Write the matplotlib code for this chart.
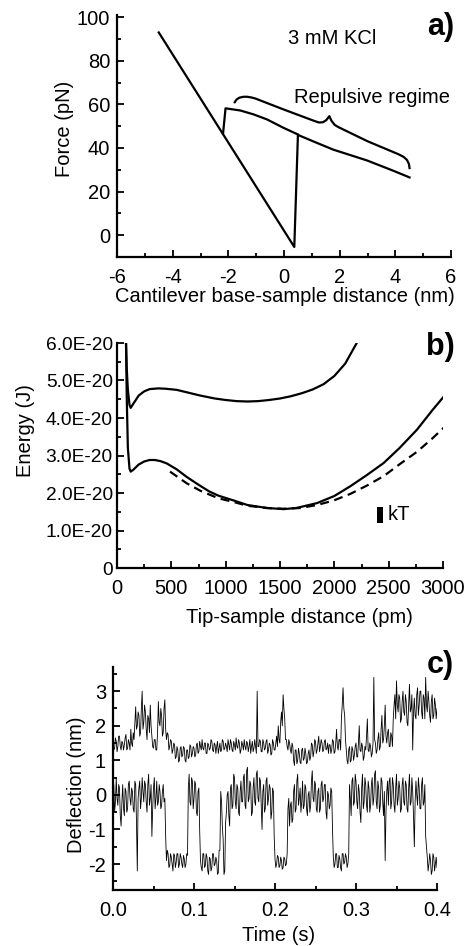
import numpy as np
import matplotlib
matplotlib.use("Agg")
import matplotlib.pyplot as plt
from matplotlib.ticker import MultipleLocator, FuncFormatter

plt.rcParams['font.family'] = ['Liberation Sans', 'DejaVu Sans']
plt.rcParams['font.size'] = 14.5
plt.rcParams['axes.unicode_minus'] = False

# ── Panel a: force curves ─────────────────────────────────────────────────────
retract_x = [-4.50, 0.37, 0.50, 1.19, 1.78, 2.98, 3.94, 4.51]
retract_f = [93.0, -5.4, 46.0, 42.3, 39.2, 34.3, 29.5, 26.5]
approach_x = [-2.19, -2.10, -1.57, -1.09, -0.61, -0.01, 0.50]
approach_f = [46.6, 58.2, 57.2, 55.4, 53.1, 49.2, 46.2]

brace_x = [-1.77, -1.70, -1.60, -1.45, -1.33, -1.18, -1.03, 0.00, 1.07, 1.25, 1.40,
           1.52, 1.63, 1.70, 1.82, 1.95, 3.00, 4.12, 4.30, 4.42, 4.49, 4.51]
brace_f = [61.0, 62.3, 63.1, 63.5, 63.5, 63.2, 62.7, 57.6, 52.5, 51.7, 51.8,
           52.8, 54.6, 52.6, 50.6, 49.6, 43.1, 37.1, 35.9, 34.5, 32.6, 30.8]

# ── Panel b: energy profiles (units of 1e-20 J) ───────────────────────────────
up_x = [83, 90, 100, 115, 126, 150, 200, 250, 300, 380, 450, 550, 650, 764, 900,
        1000, 1100, 1200, 1300, 1400, 1500, 1600, 1700, 1800, 1900, 2000, 2100, 2206]
up_e = [6.0, 5.3, 4.75, 4.35, 4.27, 4.38, 4.60, 4.71, 4.77, 4.79, 4.78, 4.75, 4.68, 4.60,
        4.52, 4.48, 4.45, 4.44, 4.45, 4.48, 4.52, 4.58, 4.66, 4.76, 4.90, 5.12, 5.45, 6.0]
low_x = [83, 90, 100, 115, 126, 150, 200, 250, 300, 350, 400, 457, 550, 641, 750, 850,
         932, 1074, 1200, 1380, 1534, 1650, 1840, 2000, 2147, 2300, 2454, 2600, 2761,
         2900, 3021]
low_e = [6.0, 4.5, 3.2, 2.65, 2.57, 2.62, 2.76, 2.84, 2.88, 2.88, 2.85, 2.79, 2.63, 2.43,
         2.22, 2.04, 1.93, 1.80, 1.68, 1.60, 1.57, 1.60, 1.73, 1.92, 2.18, 2.48, 2.80,
         3.20, 3.69, 4.20, 4.62]
dash_x = [488, 641, 767, 932, 1074, 1200, 1380, 1530, 1687, 1840, 1994, 2150, 2301,
          2454, 2607, 2761, 2900, 3021]
dash_e = [2.57, 2.26, 2.06, 1.86, 1.76, 1.66, 1.60, 1.58, 1.60, 1.68, 1.80, 1.98, 2.20,
          2.45, 2.78, 3.10, 3.45, 3.78]
kT = 0.41   # 1e-20 J

# ── Panel c: deflection traces (every 1 ms) ───────────────────────────────────
t_step = 0.001
upper_trace = [
    1.6, 1.3, 1.35, 1.65, 1.55, 1.25, 1.4, 1.7, 1.7, 1.4, 1.3, 1.55, 1.5, 1.3, 1.45, 1.65, 1.75, 1.3, 1.35, 1.6,
    1.5, 1.3, 1.9, 1.5, 1.4, 1.8, 1.6, 2.1, 2.55, 1.9, 2.0, 2.4, 2.3, 1.7, 1.8, 2.5, 3.0, 1.9, 2.1, 2.6,
    2.4, 1.9, 1.6, 2.3, 2.2, 1.8, 2.6, 2.0, 1.7, 1.4, 1.35, 1.6, 1.6, 1.3, 1.3, 1.8, 2.7, 2.1, 2.0, 2.5,
    2.3, 1.7, 1.8, 2.5, 2.75, 1.9, 1.6, 1.8, 1.75, 1.3, 1.4, 1.6, 1.55, 1.2, 1.3, 1.5, 1.45, 1.05, 1.1, 1.4,
    1.3, 0.95, 1.0, 1.35, 1.4, 1.1, 1.15, 1.4, 1.35, 1.0, 0.95, 1.3, 1.3, 1.05, 1.1, 1.45, 1.4, 1.1, 1.2, 1.4,
    1.35, 1.1, 1.15, 1.45, 1.5, 1.2, 1.25, 1.55, 1.4, 1.3, 1.6, 1.35, 1.3, 1.5, 1.5, 1.2, 1.2, 1.5, 1.45, 1.3,
    1.35, 1.6, 1.55, 1.3, 1.25, 1.5, 1.45, 1.2, 1.4, 1.55, 1.2, 1.35, 1.5, 1.25, 1.3, 1.6, 1.55, 1.3, 1.35, 1.5,
    1.4, 1.25, 1.6, 1.45, 1.3, 1.6, 1.5, 1.3, 1.25, 1.55, 1.45, 1.3, 1.65, 1.4, 1.35, 1.6, 1.5, 1.2, 1.3, 1.55,
    1.45, 1.3, 1.6, 1.4, 1.3, 1.55, 1.5, 1.25, 1.4, 1.6, 1.2, 1.4, 1.55, 1.25, 1.35, 1.6, 1.4, 1.2, 3.0, 1.4,
    1.4, 1.6, 1.55, 1.25, 1.25, 1.6, 1.5, 1.3, 1.35, 1.55, 1.6, 1.2, 1.3, 1.5, 1.45, 1.15, 1.2, 1.6, 1.5, 1.3,
    1.3, 1.5, 1.7, 1.4, 2.0, 1.6, 1.5, 2.1, 2.4, 2.0, 2.9, 2.5, 2.2, 1.6, 1.6, 1.4, 1.3, 1.6, 1.5, 1.3,
    1.2, 1.5, 1.4, 1.0, 0.85, 1.3, 1.3, 0.9, 1.0, 1.35, 1.2, 0.95, 0.9, 1.3, 1.35, 1.0, 1.05, 1.35, 1.2, 0.9,
    0.95, 1.2, 1.3, 1.0, 1.1, 1.5, 1.45, 1.1, 1.25, 1.6, 1.55, 1.2, 1.3, 1.5, 1.7, 1.25, 1.4, 1.6, 1.5, 1.25,
    1.3, 1.55, 1.6, 1.3, 1.35, 1.5, 1.2, 1.45, 1.45, 1.2, 1.3, 1.6, 1.55, 1.2, 1.25, 1.5, 1.9, 1.4, 1.3, 1.6,
    1.6, 1.3, 2.2, 2.6, 3.1, 2.5, 2.3, 1.6, 1.3, 1.0, 0.9, 1.3, 1.4, 0.95, 1.0, 1.4, 1.3, 1.0, 1.15, 1.4,
    1.5, 1.1, 1.1, 1.5, 2.0, 1.3, 1.25, 1.5, 1.4, 1.0, 1.1, 1.4, 1.3, 1.7, 2.2, 1.3, 1.25, 1.5, 1.4, 1.1,
    1.2, 1.5, 3.4, 1.6, 1.5, 1.2, 1.3, 1.6, 1.8, 1.3, 1.4, 1.9, 2.3, 1.5, 1.6, 2.0, 2.6, 1.7, 1.5, 1.8,
    1.9, 1.4, 1.4, 1.8, 1.7, 1.4, 2.2, 2.6, 2.9, 2.2, 3.3, 2.6, 2.4, 2.9, 2.8, 2.1, 2.2, 2.7, 3.0, 2.4,
    2.3, 2.9, 2.7, 2.1, 2.0, 2.6, 3.2, 2.4, 2.5, 2.9, 1.3, 2.4, 2.8, 2.3, 2.2, 2.9, 3.1, 2.3, 2.6, 3.0,
    3.0, 2.4, 2.2, 2.9, 2.8, 2.2, 3.4, 2.6, 2.4, 3.0, 2.7, 2.3, 2.1, 2.7, 2.9, 2.2, 2.3, 2.8, 2.6, 2.2,
    2.5]
lower_trace = [
    0.0, 0.3, -0.5, -0.2, 0.5, -0.1, -0.3, 0.3, 0.2, -0.6, -0.9, -0.2, 0.3, -0.4, -0.6, 0.2, 0.1, -0.5, -0.4, 0.3,
    0.4, -0.1, -0.3, 0.2, 0.1, -0.4, -0.5, 0.4, 0.3, -0.8, -2.2, -0.1, 0.2, 0.4, -0.4, -0.1, 0.5, 0.1, -0.2, 0.4,
    0.3, -0.2, -0.5, 0.3, 0.6, -0.3, -0.1, 0.3, -1.2, -0.4, 0.2, 0.5, -0.4, -0.1, 0.4, -0.3, -0.2, 0.3, 0.1, -0.4,
    -0.3, 0.1, 0.3, -0.2, -0.1, -1.2, -1.9, -1.6, -1.7, -2.1, -2.05, -1.7, -1.8, -2.0, -2.2, -1.7, -1.75, -2.1, -1.95, -1.7,
    -1.7, -2.1, -2.0, -1.7, -1.8, -2.0, -2.1, -1.75, -1.85, -2.1, -2.0, -1.7, -1.75, 0.2, 0.6, -0.2, -0.3, 0.5, 0.4, -0.4,
    -0.1, 0.4, 0.3, -0.5, -0.6, 0.1, 0.2, -1.0, -1.9, -2.1, -2.2, -1.7, -1.7, -2.1, -2.05, -1.7, -1.8, -2.2, -2.3, -1.8,
    -1.85, -2.2, -2.1, -1.7, -1.7, -2.05, -2.0, -1.8, -1.9, -2.3, -2.25, -1.6, -1.6, 0.1, -0.2, -0.9, -1.3, -2.3, -2.2, -0.8,
    -0.5, 0.0, 0.1, -0.6, -0.9, 0.2, 0.3, -0.4, -0.3, 0.6, 0.5, -0.2, -0.4, 0.3, 0.2, -0.5, -0.6, 0.1, 0.4, -0.2,
    -0.2, 0.5, 0.6, -0.3, -0.4, 0.7, 0.8, -0.2, -0.1, 0.4, 0.3, -0.6, -0.5, 0.2, 0.5, -0.2, -0.3, 0.6, 0.7, -0.1,
    -0.2, 0.5, 0.4, -0.3, -1.0, 0.1, 0.3, -0.5, -0.4, 0.4, 0.5, -0.3, -0.1, 0.3, 0.2, -0.7, -0.5, 0.2, 0.1, -1.2,
    -1.85, -2.1, -2.0, -1.75, -1.8, -2.1, -2.05, -1.8, -1.9, -2.15, -2.1, -1.8, -1.85, -2.05, -2.0, -1.7, -0.4, -0.1, -0.9, -0.3,
    -0.2, -0.8, -0.7, 0.1, 0.3, -0.5, -0.4, 0.4, 0.6, -0.3, -0.1, 0.2, -0.5, -0.2, 0.4, -0.4, -0.3, 0.3, 0.2, -0.4,
    -0.6, 0.0, 0.1, -0.5, -0.3, 0.4, 0.7, -0.1, -0.2, 0.4, 0.3, -0.4, -0.5, 0.1, 0.2, -0.5, -0.4, 0.3, 0.4, -0.2,
    -0.1, 0.3, 0.3, -0.5, -0.7, 0.1, 0.0, -0.4, -0.3, 0.2, 0.1, -1.0, -1.8, -2.1, -2.0, -1.7, -1.7, -2.1, -2.1, -1.75,
    -1.85, -2.1, -2.2, -1.7, -1.7, -2.0, -1.95, -1.7, -1.8, -2.1, -2.0, -1.7, 0.3, -0.1, -0.6, 0.4, 0.5, -0.3, -0.2, 0.6,
    0.4, -0.2, -0.4, 0.3, 0.1, -0.5, -0.8, 0.2, 0.6, -0.4, -0.2, 0.5, 0.3, -0.3, -0.5, 0.4, 0.2, -0.5, -0.3, 0.3,
    0.5, -0.3, -0.1, 0.6, 0.7, -0.2, -0.4, 0.4, 0.2, -0.5, -0.3, 0.5, 0.4, -0.2, -0.6, 0.1, -1.9, -0.5, 0.1, 0.4,
    -0.3, 0.4, 0.5, -0.4, -0.2, 0.5, 0.3, -0.3, -0.5, 0.2, 0.6, -0.3, -0.1, 0.4, 0.2, -0.5, -0.4, 0.3, 0.5, -0.2,
    -0.3, 0.4, 0.3, -0.4, -0.5, 0.2, 0.6, -0.3, -0.2, 0.5, 0.1, -0.6, -1.5, -0.2, 0.4, 0.0, -0.3, 0.5, 0.2, -0.4,
    -0.4, 0.3, 0.5, -0.3, -0.2, 0.3, -1.2, -1.5, -1.8, -2.2, -2.0, -1.7, -1.9, -2.3, -2.2, -1.7, -1.8, -2.2, -2.0, -1.8,
    -2.1]
time_s = np.arange(len(upper_trace)) * t_step

W, H = 466, 946
fig = plt.figure(figsize=(W / 100, H / 100), dpi=100)
fig.patch.set_facecolor("white")


def axes_px(left, right, top, bottom):
    return fig.add_axes([left / W, 1 - bottom / H, (right - left) / W, (bottom - top) / H])


def style(ax):
    ax.spines[['top', 'right']].set_visible(False)
    for s in ('left', 'bottom'):
        ax.spines[s].set_linewidth(1.6)
    ax.tick_params(which='both', direction='in', width=1.3, labelsize=14.5, pad=5)
    ax.tick_params(axis='x', which='both', pad=8)
    ax.tick_params(which='major', length=5)
    ax.tick_params(which='minor', length=3)
    ax.patch.set_alpha(0)


LW = 1.6

# ── a) ─────────────────────────────────────────────────────────────────────────
ax1 = axes_px(117, 451, 15, 257)
style(ax1)
ax1.plot(retract_x, retract_f, color='black', lw=LW)
ax1.plot(approach_x, approach_f, color='black', lw=LW)
ax1.plot(brace_x, brace_f, color='black', lw=LW)
ax1.set_xlim(-6, 6)
ax1.set_ylim(-10, 101)
ax1.xaxis.set_major_locator(MultipleLocator(2))
ax1.xaxis.set_minor_locator(MultipleLocator(1))
ax1.yaxis.set_minor_locator(MultipleLocator(10))
ax1.set_yticks([0, 20, 40, 60, 80, 100])
ax1.text(1.72, 90, "3 mM KCl", ha='center', va='center')
ax1.text(3.15, 63, "Repulsive regime", ha='center', va='center')
ax1.text(-0.156, 0.53, "Force (pN)", rotation=90, ha='center', va='center',
         transform=ax1.transAxes)
ax1.text(0.503, -0.163, "Cantilever base-sample distance (nm)", ha='center', va='center',
         transform=ax1.transAxes)

# ── b) ─────────────────────────────────────────────────────────────────────────
ax2 = axes_px(117, 443, 343, 568)
style(ax2)
ax2.plot(up_x, np.array(up_e) * 1e-20, color='black', lw=LW)
ax2.plot(low_x, np.array(low_e) * 1e-20, color='black', lw=LW)
ax2.plot(dash_x, np.array(dash_e) * 1e-20, color='black', lw=LW, ls=(0, (4, 2.5)))
ax2.bar([2423], [kT * 1e-20], bottom=1.21e-20, width=55, color='black')
ax2.text(2490, 1.42e-20, "kT", ha='left', va='center')
ax2.set_xlim(0, 3000)
ax2.set_ylim(0, 6e-20)
ax2.xaxis.set_major_locator(MultipleLocator(500))
ax2.xaxis.set_minor_locator(MultipleLocator(250))
ax2.yaxis.set_major_locator(MultipleLocator(1e-20))
ax2.yaxis.set_minor_locator(MultipleLocator(0.5e-20))
ax2.yaxis.set_major_formatter(FuncFormatter(
    lambda v, p: "0" if abs(v) < 1e-25 else f"{v / 1e-20:.1f}E-20"))
ax2.tick_params(axis='y', labelsize=13.8, pad=3)
ax2.text(-0.282, 0.613, "Energy (J)", rotation=90, ha='center', va='center',
         transform=ax2.transAxes)
ax2.text(0.561, -0.222, "Tip-sample distance (pm)", ha='center', va='center',
         transform=ax2.transAxes)

# ── c) ─────────────────────────────────────────────────────────────────────────
ax3 = axes_px(113, 437, 667, 890)
style(ax3)
ax3.plot(time_s, upper_trace, color='black', lw=0.6)
ax3.plot(time_s, lower_trace, color='black', lw=0.6)
ax3.set_xlim(0, 0.4)
ax3.set_ylim(-2.75, 3.7)
ax3.xaxis.set_major_locator(MultipleLocator(0.1))
ax3.xaxis.set_minor_locator(MultipleLocator(0.05))
ax3.xaxis.set_major_formatter(FuncFormatter(lambda v, p: f"{v:.1f}"))
ax3.yaxis.set_major_locator(MultipleLocator(1))
ax3.yaxis.set_minor_locator(MultipleLocator(0.5))
ax3.text(-0.114, 0.471, "Deflection (nm)", rotation=90, ha='center', va='center',
         transform=ax3.transAxes)
ax3.text(0.51, -0.202, "Time (s)", ha='center', va='center', transform=ax3.transAxes)

# panel letters
for lab, (px, py) in {"a)": (441, 27), "b)": (440, 347), "c)": (440, 665)}.items():
    fig.text(px / W, 1 - py / H, lab, ha='center', va='center', fontsize=22,
             fontweight='bold')

fig.savefig("out.png", dpi=100, facecolor="white")
